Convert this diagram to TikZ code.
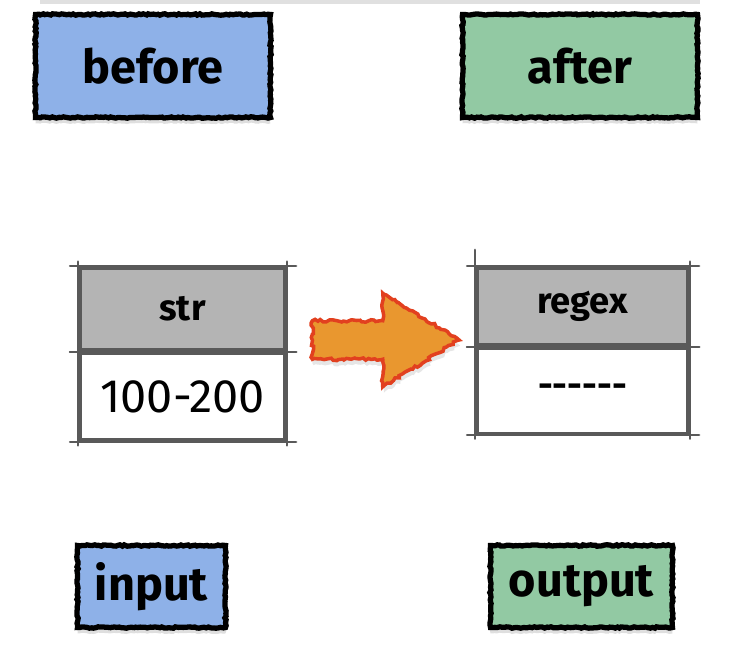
\documentclass[tikz,border=0pt]{standalone}
\usepackage{fontspec}
\setmainfont{Fira Sans}
\usetikzlibrary{positioning,shapes.arrows,shadows,decorations.pathmorphing}
\definecolor{beforeblue}{HTML}{8EB1E8}
\definecolor{aftergreen}{HTML}{92C9A3}
\definecolor{headgray}{HTML}{B4B4B4}
\definecolor{linegray}{HTML}{595959}
\definecolor{arrowred}{HTML}{E2401F}
\definecolor{arroworange}{HTML}{E9972F}

\begin{document}
\begin{tikzpicture}[x=0.03cm, y=-0.03cm,
        tag/.style={draw=black, line width=4.5pt, text=black,
          font=\fontsize{40}{46}\selectfont\bfseries,
          decorate, decoration={random steps, segment length=2pt, amplitude=0.6pt},
          drop shadow={shadow xshift=0pt, shadow yshift=-5pt, opacity=0.25}},
        cell/.style={draw=linegray, line width=3pt, text=black, inner sep=0pt},
        headcell/.style={cell, fill=headgray, font=\fontsize{31}{36}\selectfont\bfseries},
        bodycell/.style={cell, fill=white},
        overshoot/.style={draw=linegray, line width=2pt, line cap=round},
        fatarrow/.style={single arrow, draw=arrowred, fill=arroworange, line width=3pt,
          inner xsep=0pt, inner ysep=0.525cm, minimum height=4.4cm,
          single arrow head extend=0.825cm, single arrow tip angle=63,
          decorate, decoration={random steps, segment length=2.5pt, amplitude=1.2pt},
          drop shadow={shadow xshift=1pt, shadow yshift=-5pt, opacity=0.2}}]

    \useasboundingbox (0,0) rectangle (736,657);
    \fill [black, opacity=0.12] (40,0) rectangle (700,4);

    % labels on top and bottom
    \node [tag, fill=beforeblue, minimum width=7.05cm, minimum height=3.09cm] (before) at (153,66) {before};
    \node [tag, fill=aftergreen, minimum width=7.05cm, minimum height=3.09cm] (after) at (580,66) {after};
    \node [tag, fill=beforeblue, minimum width=4.44cm, minimum height=2.46cm] (input) at (151.5,586.5) {input};
    \node [tag, fill=aftergreen, minimum width=5.46cm, minimum height=2.46cm] (output) at (581.5,586.5) {output};

    % tables
    \node [headcell, minimum width=6.15cm, minimum height=2.46cm] (strh) at (182.5,309) {str};
    \node [bodycell, minimum width=6.15cm, minimum height=2.6cm, below=0pt of strh,
           font=\fontsize{40}{46}\selectfont\mdseries] (strb) {100-200};
    \node [headcell, minimum width=6.33cm, minimum height=2.31cm] (rxh) at (582.5,306.5) {regex};
    \node [bodycell, minimum width=6.33cm, minimum height=2.55cm, below=0pt of rxh,
           font=\fontsize{31}{36}\selectfont\bfseries] (rxb) {-{}-{}-{}-{}-{}-};

    \foreach \t in {strh,strb,rxh,rxb} {
        \draw [overshoot] ([xshift=-7pt]\t.north west) -- ([xshift=8pt]\t.north east);
        \draw [overshoot] ([xshift=-7pt]\t.south west) -- ([xshift=8pt]\t.south east);
        \draw [overshoot] ([yshift=4pt]\t.north west) -- ([yshift=-3pt]\t.south west);
        \draw [overshoot] ([yshift=4pt]\t.north east) -- ([yshift=-3pt]\t.south east);
    }
    \draw [overshoot] ([yshift=14pt]rxh.north west) -- (rxh.north west);

    % arrow between the tables
    \node [fatarrow] (conv) at (370,340) {};
\end{tikzpicture}
\end{document}
